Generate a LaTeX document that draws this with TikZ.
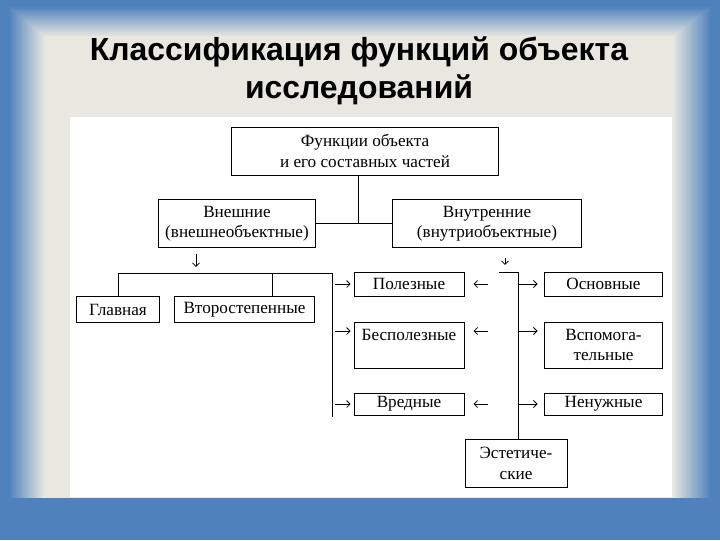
\documentclass[tikz,border=0pt]{standalone}
\usepackage{fontspec}
\setmainfont{Liberation Serif}
\newfontfamily\titlefont{Liberation Sans}
\usetikzlibrary{positioning, arrows.meta}
\definecolor{slideblue}{HTML}{4F81BD}
\definecolor{slidebeige}{HTML}{EEECE1}

\begin{document}
\begin{tikzpicture}[
    x=0.025cm, y=-0.025cm,
    every node/.style={font=\fontsize{12.2}{14.5}\selectfont},
    box/.style={
      draw, line width=0.7pt,
      fill=white, align=center,
      inner sep=1pt, minimum height=0.6cm,
    },
    link/.style={
      draw, line width=0.7pt,
    },
    arr/.style={
      -{Straight Barb[length=2.5pt,width=5pt]}, line width=0.6pt,
    },
    title/.style={
      font=\titlefont\bfseries\fontsize{22.7}{27}\selectfont,
      anchor=base, inner sep=0pt,
    },
  ]
  % slide background, soft frame
  \fill[slideblue] (0,0) rectangle (720,540);
  \foreach \t in {0,1,...,24}{
    \pgfmathsetmacro{\mix}{4*\t}
    \fill[slidebeige!\mix!slideblue]
      ({8+1.5*\t},{6+1.25*\t}) rectangle ({712-1.6*\t},498);
  }
  \fill[white] (70,117) rectangle (672,497);

  \node[title] (t1) at (359,60) {Классификация функций объекта};
  \node[title] (t2) at (359,98) {исследований};

  % boxes
  \node[box, minimum width=6.65cm, minimum height=1.2cm] (func) at (365,151) {Функции объекта\\и его составных частей};
  \node[box, minimum width=3.9cm, minimum height=1.22cm] (ext) at (237,223.5) {Внешние\\(внешнеобъектные)};
  \node[box, minimum width=4.7cm, minimum height=1.22cm] (int) at (487,223.5) {Внутренние\\(внутриобъектные)};
  \node[box, minimum width=2.05cm, minimum height=0.63cm] (main) at (118,309.5) {Главная};
  \node[box, minimum width=3.52cm, minimum height=0.63cm] (sec) at (244.5,309.5) {Второстепенные};

  \node[box, minimum width=2.75cm] (use) at (409,284) {Полезные};
  \node[box, minimum width=2.75cm, minimum height=1.15cm] (useless) at (409,345) {Бесполезные\\~};
  \node[box, minimum width=2.75cm, minimum height=0.55cm] (harm) at (409,404) {Вредные};
  \node[box, minimum width=2.97cm] (basic) at (603.5,284) {Основные};
  \node[box, minimum width=2.97cm, minimum height=1.15cm] (aux) at (603.5,345) {Вспомога-\\тельные};
  \node[box, minimum width=2.97cm, minimum height=0.55cm] (unneeded) at (603.5,404) {Ненужные};
  \node[box, minimum width=2.55cm, minimum height=1.22cm] (aest) at (516,463.5) {Эстетиче-\\ские};

  % junctions
  \coordinate (fj) at (358,224);
  \coordinate (lb) at (332,273);
  \coordinate (lbend) at (332,417);
  \coordinate (sd) at (272,273);
  \coordinate (ed) at (196,273);
  \coordinate (rs) at (499,272);
  \coordinate (rb) at (518,272);
  \coordinate (id) at (505,272);
  \coordinate (r2) at (0,331);

  \draw[link] (ext.east) -- (int.west);
  \draw[link] (fj |- func.south) -- (fj);

  \draw[link] (main.north) |- (lb) -- (lbend);
  \draw[link] (sd) -- (sd |- sec.north);
  \draw[arr, shorten <=4.3pt, shorten >=4.3pt] (ed |- ext.south) -- (ed);

  \draw[link] (rs) -- (rb) -- (rb |- aest.north);
  \draw[arr, shorten <=7pt, shorten >=5pt] (id |- int.south) -- (id);

  % rows
  \draw[arr, shorten <=2pt, shorten >=2pt] (lb |- use.west) -- (use.west);
  \draw[arr, shorten <=2pt, shorten >=2pt] (lb |- r2) -- (useless.west |- r2);
  \draw[arr, shorten <=2pt, shorten >=2pt] (lb |- harm.west) -- (harm.west);

  \draw[arr, shorten <=21pt, shorten >=6.4pt] (rb |- use.east) -- (use.east);
  \draw[arr, shorten <=21pt, shorten >=6.4pt] (rb |- r2) -- (useless.east |- r2);
  \draw[arr, shorten <=21pt, shorten >=6.4pt] (rb |- harm.east) -- (harm.east);

  \draw[arr, shorten <=1pt, shorten >=4.3pt] (rb |- basic.west) -- (basic.west);
  \draw[arr, shorten <=1pt, shorten >=4.3pt] (rb |- r2) -- (aux.west |- r2);
  \draw[arr, shorten <=1pt, shorten >=4.3pt] (rb |- unneeded.west) -- (unneeded.west);
\end{tikzpicture}
\end{document}
